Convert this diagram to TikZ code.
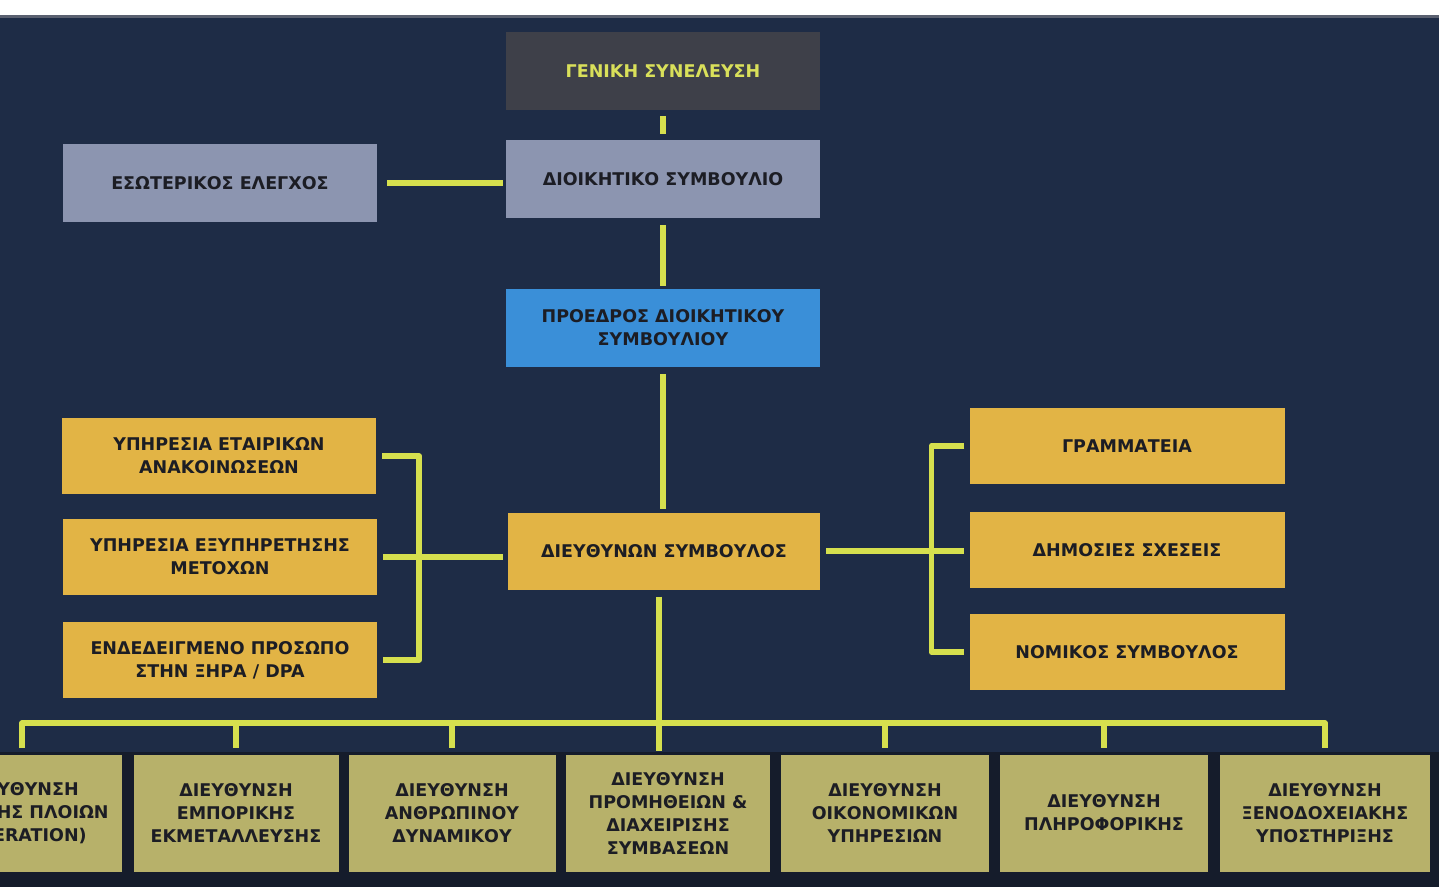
\documentclass[tikz,border=0pt]{standalone}
\usepackage{fontspec}
\setmainfont{DejaVu Sans}
\usetikzlibrary{calc}

% palette
\definecolor{navy}{HTML}{1E2C46}
\definecolor{deepband}{HTML}{151C2B}
\definecolor{rimgrey}{HTML}{5A6070}
\definecolor{charcoal}{HTML}{3E4049}
\definecolor{slate}{HTML}{8C95B0}
\definecolor{skyblue}{HTML}{3A8FD8}
\definecolor{gold}{HTML}{E2B445}
\definecolor{khaki}{HTML}{B7B16A}
\definecolor{wire}{HTML}{D6E04E}
\definecolor{ink}{HTML}{1C1D24}
\definecolor{lemon}{HTML}{D9E05A}

\begin{document}
\begin{tikzpicture}[x=1pt,y=-1pt,
  box/.style={rectangle, inner sep=0pt, align=center,
    font=\bfseries\fontsize{17.5}{23}\selectfont},
  wide/.style={minimum width=314pt, minimum height=78pt},
  unit/.style={minimum width=206pt, minimum height=117pt},
  assembly/.style={box, wide, fill=charcoal, text=lemon},
  board/.style={box, wide, fill=slate, text=ink},
  chair/.style={box, wide, fill=skyblue, text=ink},
  staff/.style={box, wide, fill=gold, text=ink},
  division/.style={box, unit, fill=khaki, text=ink},
  conn/.style={draw=wire, line width=5.5pt, line join=round}]

\clip (0,0) rectangle (1439,887);

% background, scanned page edge and the dark band behind the divisions
\fill[navy] (0,0) rectangle (1439,887);
\fill[white] (0,0) rectangle (1439,15);
\fill[rimgrey] (0,15) rectangle (1439,18);
\fill[deepband] (0,752) rectangle (1439,887);

% governing bodies
\node[assembly] (gs) at (663,71) {ΓΕΝΙΚΗ ΣΥΝΕΛΕΥΣΗ};
\node[board] (ds) at (663,179) {ΔΙΟΙΚΗΤΙΚΟ ΣΥΜΒΟΥΛΙΟ};
\node[board] (ee) at (220,183) {ΕΣΩΤΕΡΙΚΟΣ ΕΛΕΓΧΟΣ};
\node[chair] (pr) at (663,328) {ΠΡΟΕΔΡΟΣ ΔΙΟΙΚΗΤΙΚΟΥ\\ΣΥΜΒΟΥΛΙΟΥ};
\node[staff, minimum width=312pt, minimum height=77pt] (ceo) at (664,551) {ΔΙΕΥΘΥΝΩΝ ΣΥΜΒΟΥΛΟΣ};

% staff services, left
\node[staff, minimum height=76pt] (L1) at (219,456) {ΥΠΗΡΕΣΙΑ ΕΤΑΙΡΙΚΩΝ\\ΑΝΑΚΟΙΝΩΣΕΩΝ};
\node[staff, minimum height=76pt] (L2) at (220,557) {ΥΠΗΡΕΣΙΑ ΕΞΥΠΗΡΕΤΗΣΗΣ\\ΜΕΤΟΧΩΝ};
\node[staff, minimum height=76pt] (L3) at (220,660) {ΕΝΔΕΔΕΙΓΜΕΝΟ ΠΡΟΣΩΠΟ\\ΣΤΗΝ ΞΗΡΑ / DPA};

% staff services, right
\node[staff, minimum width=315pt, minimum height=76pt] (R1) at (1127,446) {ΓΡΑΜΜΑΤΕΙΑ};
\node[staff, minimum width=315pt, minimum height=76pt] (R2) at (1127,550) {ΔΗΜΟΣΙΕΣ ΣΧΕΣΕΙΣ};
\node[staff, minimum width=315pt, minimum height=76pt] (R3) at (1127,652) {ΝΟΜΙΚΟΣ ΣΥΜΒΟΥΛΟΣ};

% divisions
\node[division, minimum width=200pt] (B1) at (22,813) {ΔΙΕΥΘΥΝΣΗ\\ΚΙΝΗΣΗΣ ΠΛΟΙΩΝ\\(OPERATION)};
\node[division, minimum width=205pt] (B2) at (236,813) {ΔΙΕΥΘΥΝΣΗ\\ΕΜΠΟΡΙΚΗΣ\\ΕΚΜΕΤΑΛΛΕΥΣΗΣ};
\node[division, minimum width=207pt] (B3) at (452,813) {ΔΙΕΥΘΥΝΣΗ\\ΑΝΘΡΩΠΙΝΟΥ\\ΔΥΝΑΜΙΚΟΥ};
\node[division, minimum width=204pt] (B4) at (668,813) {ΔΙΕΥΘΥΝΣΗ\\ΠΡΟΜΗΘΕΙΩΝ \&\\ΔΙΑΧΕΙΡΙΣΗΣ\\ΣΥΜΒΑΣΕΩΝ};
\node[division, minimum width=208pt] (B5) at (885,813) {ΔΙΕΥΘΥΝΣΗ\\ΟΙΚΟΝΟΜΙΚΩΝ\\ΥΠΗΡΕΣΙΩΝ};
\node[division, minimum width=208pt] (B6) at (1104,813) {ΔΙΕΥΘΥΝΣΗ\\ΠΛΗΡΟΦΟΡΙΚΗΣ};
\node[division, minimum width=210pt] (B7) at (1325,813) {ΔΙΕΥΘΥΝΣΗ\\ΞΕΝΟΔΟΧΕΙΑΚΗΣ\\ΥΠΟΣΤΗΡΙΞΗΣ};

% chain of command
\draw[conn, shorten <=6pt, shorten >=6pt] (gs.south) -- (ds.north);
\draw[conn, shorten <=10pt, shorten >=3pt] (ee.east) -- (ee.east -| ds.west);
\draw[conn, shorten <=7pt, shorten >=3pt] (ds.south) -- (pr.north);
\draw[conn, shorten <=7pt, shorten >=3pt] (pr.south) -- (pr.south |- ceo.north);

% left staff bracket
\draw[conn] ([xshift=6pt]L1.east) -- ++(37,0) |- ([xshift=6pt]L3.east);
\draw[conn, shorten <=6pt, shorten >=5pt] (L2.east) -- (L2.east -| ceo.west);

% right staff bracket
\draw[conn] ([xshift=-5pt]R1.west) -- ++(-33,0) |- ([xshift=-5pt]R3.west);
\draw[conn, shorten <=6pt, shorten >=5pt] (ceo.east) -- (ceo.east -| R2.west);

% divisions bus
\coordinate (bus) at (0,723);
\draw[conn] ([yshift=6pt]B1.north) |- (bus -| B7.north) -- ([yshift=6pt]B7.north);
\foreach \d in {B2,B3,B5,B6}
  \draw[conn, shorten >=6pt] (\d.north |- bus) -- (\d.north);
\draw[conn, shorten <=7pt, shorten >=3pt] ([xshift=-5pt]ceo.south) -- ([xshift=-5pt]ceo.south |- B4.north);

\end{tikzpicture}
\end{document}
